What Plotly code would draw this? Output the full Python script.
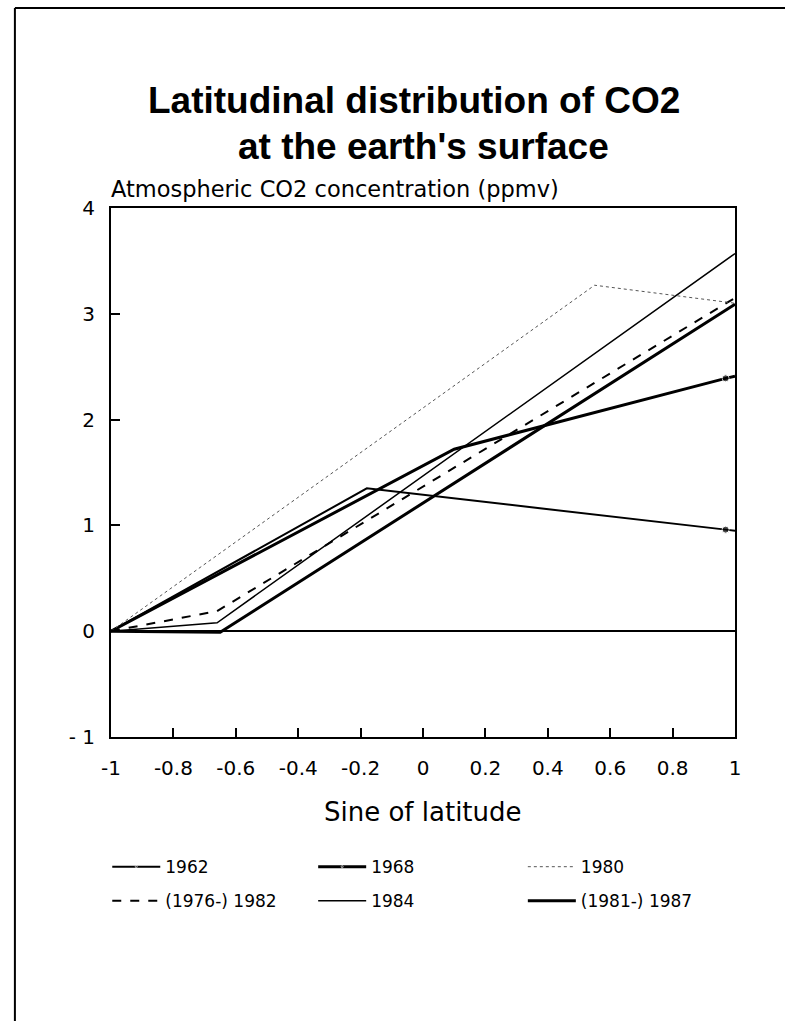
import plotly.graph_objects as go

# Data
x_1962 = [-1.0, -0.18, 0.97, 1.0]
y_1962 = [0.0, 1.35, 0.96, 0.95]

x_1968 = [-1.0, 0.10, 0.97, 1.0]
y_1968 = [0.0, 1.72, 2.39, 2.41]

x_1980 = [-1.0, 0.55, 1.0]
y_1980 = [0.0, 3.27, 3.10]

x_1982 = [-1.0, -0.66, 1.0]
y_1982 = [0.0, 0.19, 3.15]

x_1984 = [-1.0, -0.66, 1.0]
y_1984 = [0.0, 0.08, 3.57]

x_1987 = [-1.0, -0.65, 1.0]
y_1987 = [0.0, -0.01, 3.09]

x_ticks = [-1, -0.8, -0.6, -0.4, -0.2, 0, 0.2, 0.4, 0.6, 0.8, 1]
x_ticklabels = ["-1", "-0.8", "-0.6", "-0.4", "-0.2", "0", "0.2", "0.4", "0.6", "0.8", "1"]
y_ticks = [-1, 0, 1, 2, 3, 4]
y_ticklabels = ["- 1", "0", "1", "2", "3", "4"]

TITLE_FONT = "Liberation Sans, Arial, Helvetica, sans-serif"
FONT = "DejaVu Sans, Verdana, sans-serif"

fig = go.Figure()

def end_marker_sizes(n, idx, s=7):
    return [s if i == idx else 0 for i in range(n)]

fig.add_trace(go.Scatter(x=x_1962, y=y_1962, name="1962", mode="lines+markers",
                         line=dict(color="black", width=2),
                         marker=dict(color="black", size=end_marker_sizes(len(x_1962), 2)),
                         legend="legend", legendgroup="a"))
fig.add_trace(go.Scatter(x=x_1982, y=y_1982, name="(1976-) 1982", mode="lines",
                         line=dict(color="black", width=2, dash="dash"),
                         legend="legend", legendgroup="b"))
fig.add_trace(go.Scatter(x=x_1968, y=y_1968, name="1968", mode="lines+markers",
                         line=dict(color="black", width=3),
                         marker=dict(color="black", size=end_marker_sizes(len(x_1968), 2)),
                         legend="legend2", legendgroup="c"))
fig.add_trace(go.Scatter(x=x_1984, y=y_1984, name="1984", mode="lines",
                         line=dict(color="black", width=1.5),
                         legend="legend2", legendgroup="d"))
fig.add_trace(go.Scatter(x=x_1980, y=y_1980, name="1980", mode="lines",
                         line=dict(color="#555555", width=1, dash="dot"),
                         legend="legend3", legendgroup="e"))
fig.add_trace(go.Scatter(x=x_1987, y=y_1987, name="(1981-) 1987", mode="lines",
                         line=dict(color="black", width=3),
                         legend="legend3", legendgroup="f"))

leg_common = dict(orientation="v", yanchor="top", xanchor="left",
                  font=dict(family=FONT, size=17, color="black"),
                  bgcolor="rgba(0,0,0,0)", tracegroupgap=9, itemwidth=48)

fig.update_layout(
    width=785, height=1021,
    margin=dict(l=111, r=50, t=208, b=284),
    paper_bgcolor="white", plot_bgcolor="white",
    showlegend=True,
    legend=dict(x=-0.006, y=-0.212, **leg_common),
    legend2=dict(x=0.324, y=-0.212, **leg_common),
    legend3=dict(x=0.660, y=-0.212, **leg_common),
    xaxis=dict(range=[-1, 1], tickvals=x_ticks, ticktext=x_ticklabels,
               ticks="inside", ticklen=9, tickwidth=1.5, tickcolor="black",
               showline=True, linecolor="black", linewidth=2, mirror=True,
               showgrid=False, zeroline=False, ticklabelstandoff=12,
               tickfont=dict(family=FONT, size=20, color="black")),
    yaxis=dict(range=[-1, 4], tickvals=y_ticks, ticktext=y_ticklabels,
               ticks="inside", ticklen=9, tickwidth=1.5, tickcolor="black",
               showline=True, linecolor="black", linewidth=2, mirror=True,
               showgrid=False, zeroline=True, zerolinecolor="black", zerolinewidth=1.5,
               ticklabelstandoff=10,
               tickfont=dict(family=FONT, size=20, color="black")),
    annotations=[
        dict(text="<b>Latitudinal distribution of CO2</b>", x=0.485, y=1.203,
             xref="paper", yref="paper", xanchor="center", yanchor="middle",
             showarrow=False, font=dict(family=TITLE_FONT, size=37, color="black")),
        dict(text="<b>at the earth's surface</b>", x=0.5, y=1.117,
             xref="paper", yref="paper", xanchor="center", yanchor="middle",
             showarrow=False, font=dict(family=TITLE_FONT, size=37, color="black")),
        dict(text="Atmospheric CO2 concentration (ppmv)", x=-0.004, y=1.008,
             xref="paper", yref="paper", xanchor="left", yanchor="bottom",
             showarrow=False, font=dict(family=FONT, size=22.5, color="black")),
        dict(text="Sine of latitude", x=0.5, y=-0.142,
             xref="paper", yref="paper", xanchor="center", yanchor="middle",
             showarrow=False, font=dict(family=FONT, size=26, color="black")),
    ],
    shapes=[
        dict(type="line", xref="paper", yref="paper", x0=-0.154, x1=1.09, y0=1.378, y1=1.378,
             line=dict(color="black", width=2)),
        dict(type="line", xref="paper", yref="paper", x0=-0.154, x1=-0.154, y0=1.378, y1=-0.54,
             line=dict(color="black", width=2)),
    ],
)

fig.write_html("out.html")
